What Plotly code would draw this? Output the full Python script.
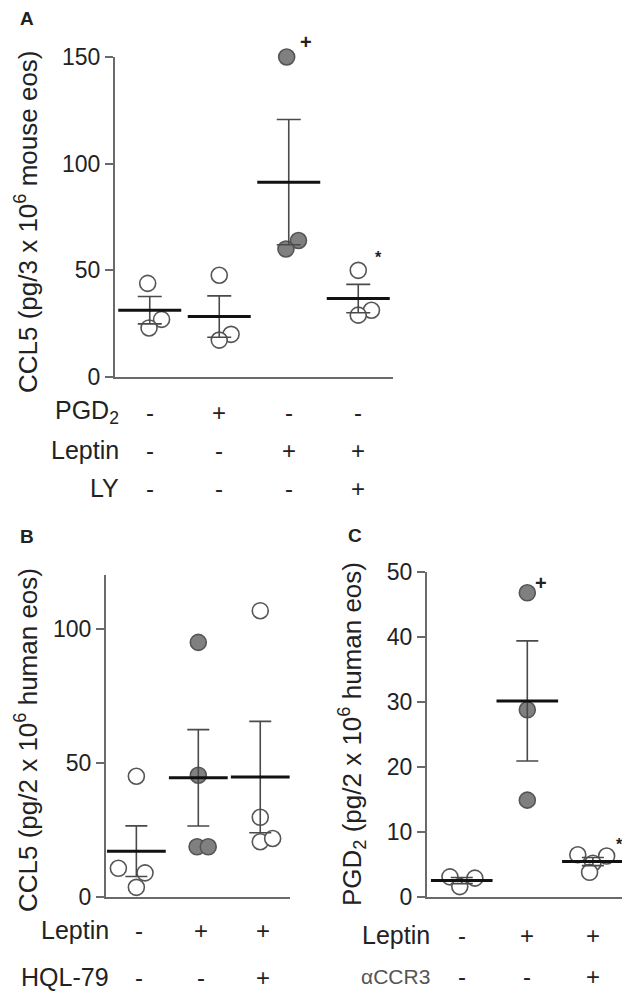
import numpy as np
import plotly.graph_objects as go

# ---------------- data ----------------
# Panel A: CCL5 (pg/3 x 10^6 mouse eos)
a_groups = ["ctrl", "PGD2", "Leptin", "Leptin+LY"]
a_values = [[43.9, 27.0, 23.0],
            [47.7, 20.0, 17.3],
            [150.0, 64.0, 60.0],
            [50.0, 31.3, 29.0]]
a_filled = [False, False, True, False]
a_rows = ["PGD<sub>2</sub>", "Leptin", "LY"]
a_signs = [["-", "+", "-", "-"],
           ["-", "-", "+", "+"],
           ["-", "-", "-", "+"]]
a_ticks = [0, 50, 100, 150]

# Panel B: CCL5 (pg/2 x 10^6 human eos)
b_values = [[45.0, 10.7, 9.0, 3.6],
            [94.9, 45.4, 18.7, 18.7],
            [106.7, 29.7, 20.6, 21.8]]
b_filled = [False, True, False]
b_rows = ["Leptin", "HQL-79"]
b_signs = [["-", "+", "+"],
           ["-", "-", "+"]]
b_ticks = [0, 50, 100]

# Panel C: PGD2 (pg/2 x 10^6 human eos)
c_values = [[3.1, 1.6, 2.9],
            [46.8, 28.8, 14.9],
            [6.5, 6.3, 5.2, 3.8]]
c_filled = [False, True, False]
c_rows = ["Leptin", "αCCR3"]
c_signs = [["-", "+", "+"],
           ["-", "-", "+"]]
c_ticks = [0, 10, 20, 30, 40, 50]

# ---------------- layout / style (not data) ----------------
a_jitter = [[-0.03, 0.17, -0.01], [0.0, 0.17, 0.0], [-0.03, 0.14, -0.04], [0.0, 0.19, 0.0]]
b_jitter = [[0.0, -0.29, 0.14, 0.0], [0.0, 0.0, -0.02, 0.16], [0.0, 0.0, 0.0, 0.2]]
c_jitter = [[-0.18, -0.03, 0.2], [0.0, 0.0, 0.0], [-0.23, 0.21, 0.0, -0.05]]

W, H = 630, 993
OFF = 8  # page body margin
FONT = "Arial, Liberation Sans, sans-serif"
TXT = "#222222"
AX = "#6a6a6a"
GRAY = "#808080"
EDGE = "#555555"

def px(x):
    return (x - OFF) / W

def py(y):
    return 1 - (y - OFF) / H

fig = go.Figure()
annotations = []

def panel(values, filled, jitter, xa, ya, bar_w, cap_w):
    for i, vals in enumerate(values):
        xs = [i + j for j in jitter[i]]
        fig.add_trace(go.Scatter(
            x=xs, y=vals, mode="markers", xaxis=xa, yaxis=ya, showlegend=False,
            cliponaxis=False,
            marker=dict(size=16, color=GRAY if filled[i] else "white",
                        line=dict(color=EDGE, width=1.6))))
    means = [float(np.mean(v)) for v in values]
    sems = [float(np.std(v, ddof=1) / np.sqrt(len(v))) for v in values]
    fig.add_trace(go.Scatter(
        x=list(range(len(values))), y=means, mode="markers", xaxis=xa, yaxis=ya,
        showlegend=False, cliponaxis=False,
        marker=dict(symbol="line-ew", size=bar_w, color="black",
                    line=dict(color="#111111", width=3)),
        error_y=dict(type="data", array=sems, visible=True, thickness=1.6,
                     width=cap_w, color="#4a4a4a")))

panel(a_values, a_filled, a_jitter, "x", "y", 45, 12)
panel(b_values, b_filled, b_jitter, "x2", "y2", 42, 11)
panel(c_values, c_filled, c_jitter, "x3", "y3", 44, 11)

tickfont = dict(family=FONT, size=23, color=TXT)

def yax(rng, ticks, dom, anchor):
    return dict(range=rng, domain=dom, tickvals=ticks, ticks="outside", ticklen=8,
                tickwidth=1.5, tickcolor=AX, showline=True, linecolor=AX, linewidth=2,
                showgrid=False, zeroline=False, tickfont=tickfont, fixedrange=True,
                automargin=False, anchor=anchor)

def xax(rng, dom, anchor):
    return dict(range=rng, domain=dom, showline=True, linecolor=AX, linewidth=2,
                showgrid=False, zeroline=False, showticklabels=False, ticks="",
                anchor=anchor, fixedrange=True, automargin=False)

fig.update_layout(
    xaxis=xax([-0.5, 3.5], [px(115), px(393)], "y"),
    yaxis=yax([0, 150], a_ticks, [py(377), py(57)], "x"),
    xaxis2=xax([-0.49, 2.48], [px(106), px(290)], "y2"),
    yaxis2=yax([0, 120], b_ticks, [py(897), py(575)], "x2"),
    xaxis3=xax([-0.53, 2.49], [px(427), px(625)], "y3"),
    yaxis3=yax([0, 50], c_ticks, [py(897), py(572)], "x3"),
)

def text(x, y, s, size=24, xanchor="center", angle=0, bold=False, color=TXT, xref="paper"):
    annotations.append(dict(
        x=x if xref != "paper" else px(x), y=py(y), xref=xref, yref="paper",
        text=f"<b>{s}</b>" if bold else s, showarrow=False, xanchor=xanchor,
        yanchor="middle", textangle=angle,
        font=dict(family=FONT, size=size, color=color)))

# panel letters
text(27, 19, "A", size=19, bold=True)
text(27, 536, "B", size=19, bold=True)
text(355, 535, "C", size=19, bold=True)

# y titles
text(26, 222, "CCL5 (pg/3 x 10<sup>6</sup> mouse eos)", size=26, angle=-90)
text(26, 740, "CCL5 (pg/2 x 10<sup>6</sup> human eos)", size=26, angle=-90)
text(352, 734, "PGD<sub>2</sub> (pg/2 x 10<sup>6</sup> human eos)", size=26, angle=-90)

# row labels and signs
a_row_y = [412, 450, 488]
for r, lab in enumerate(a_rows):
    text(121, a_row_y[r], lab, size=25, xanchor="right")
    for g, s in enumerate(a_signs[r]):
        text(g, a_row_y[r], s, xref="x")

b_row_y = [930, 977]
for r, lab in enumerate(b_rows):
    text(111, b_row_y[r], lab, size=25, xanchor="right")
    for g, s in enumerate(b_signs[r]):
        text(g + 0.05, b_row_y[r], s, xref="x2")

c_row_y = [935, 976]
for r, lab in enumerate(c_rows):
    if lab == "αCCR3":
        text(432, c_row_y[r], lab, size=21, xanchor="right", color="#555555")
    else:
        text(432, c_row_y[r], lab, size=25, xanchor="right")
    for g, s in enumerate(c_signs[r]):
        text(g, c_row_y[r], s, xref="x3")

# significance marks
text(306, 42, "+", size=20, bold=True)
text(378, 257, "*", size=16, bold=True)
text(541, 583, "+", size=20, bold=True)
text(619, 844, "*", size=16, bold=True)

fig.update_layout(
    width=W, height=H, margin=dict(l=0, r=0, t=0, b=0, autoexpand=False),
    paper_bgcolor="white", plot_bgcolor="white",
    annotations=annotations, showlegend=False,
)

fig.write_html("out.html")
